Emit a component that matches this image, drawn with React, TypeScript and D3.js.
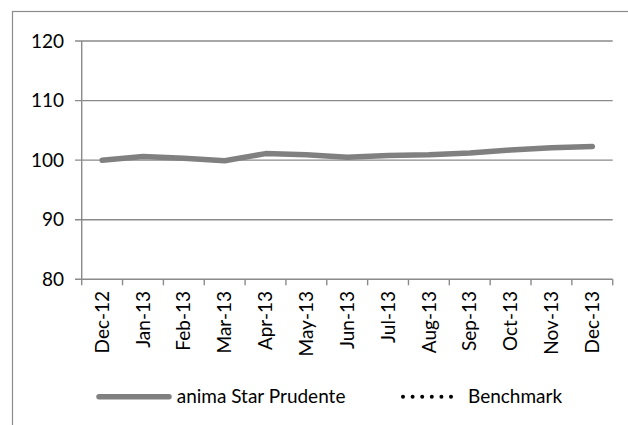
import React from "react";
import * as d3 from "d3";

const categories = ["Dec-12","Jan-13","Feb-13","Mar-13","Apr-13","May-13","Jun-13","Jul-13","Aug-13","Sep-13","Oct-13","Nov-13","Dec-13"];
const fundValues = [100.0, 100.6, 100.3, 99.9, 101.1, 100.9, 100.5, 100.8, 100.9, 101.2, 101.7, 102.1, 102.3];
const benchmarkValues: number[] = [];
const yTicks = [80, 90, 100, 110, 120];
const seriesNames = ["anima Star Prudente", "Benchmark"];

const W = 628, H = 425;
const FONT = "Lato, 'Liberation Sans', sans-serif";
const FS = 19;

export default function App() {
  const left = 81.7, right = 612.7, top = 41, bottom = 279.3;
  const x = d3.scaleBand<string>().domain(categories).range([left, right]).paddingInner(0).paddingOuter(0);
  const y = d3.scaleLinear().domain([80, 120]).range([bottom, top]);
  const cx = (c: string) => (x(c) as number) + x.bandwidth() / 2;
  const line = d3.line<number>().x((_, i) => cx(categories[i])).y(d => y(d));
  const gridColor = "#8a8a8a";

  return (
    <svg width={W} height={H} style={{ position: "absolute", left: 0, top: 0, background: "#fff" }} fontFamily={FONT}>
      <rect x={12.5} y={11.5} width={800} height={600} fill="#fff" stroke="#8c8c8c" strokeWidth={1.2} />
      {yTicks.map(t => (
        <g key={t}>
          <line x1={75} x2={right} y1={y(t)} y2={y(t)} stroke={gridColor} strokeWidth={1.4} />
          <text x={64} y={y(t)} dy="0.35em" textAnchor="end" fontSize={FS} fill="#000">{t}</text>
        </g>
      ))}
      <line x1={left} x2={left} y1={top} y2={bottom} stroke={gridColor} strokeWidth={1.4} />
      {categories.map((c, i) => (
        <line key={"t" + i} x1={(x(c) as number) + x.bandwidth()} x2={(x(c) as number) + x.bandwidth()} y1={bottom} y2={bottom + 6} stroke={gridColor} strokeWidth={1.4} />
      ))}
      <line x1={left} x2={left} y1={bottom} y2={bottom + 6} stroke={gridColor} strokeWidth={1.4} />
      {categories.map(c => (
        <text key={c} transform={`translate(${cx(c)},${291}) rotate(-90)`} dy="0.35em" textAnchor="end" fontSize={FS} fill="#000">{c}</text>
      ))}
      <path d={line(fundValues) || ""} fill="none" stroke="#808080" strokeWidth={5.5} strokeLinejoin="round" strokeLinecap="round" />
      {benchmarkValues.length > 0 && (
        <path d={line(benchmarkValues) || ""} fill="none" stroke="#000" strokeWidth={3} strokeDasharray="0.1 8" strokeLinecap="round" />
      )}
      <g>
        <line x1={99} x2={169} y1={396.7} y2={396.7} stroke="#808080" strokeWidth={5.5} strokeLinecap="round" />
        <text x={176.7} y={396.7} dy="0.35em" fontSize={FS} fill="#000">{seriesNames[0]}</text>
        <line x1={403} x2={452} y1={396.7} y2={396.7} stroke="#000" strokeWidth={4} strokeDasharray="0 9.6" strokeLinecap="round" />
        <text x={468} y={396.7} dy="0.35em" fontSize={FS} fill="#000">{seriesNames[1]}</text>
      </g>
    </svg>
  );
}
